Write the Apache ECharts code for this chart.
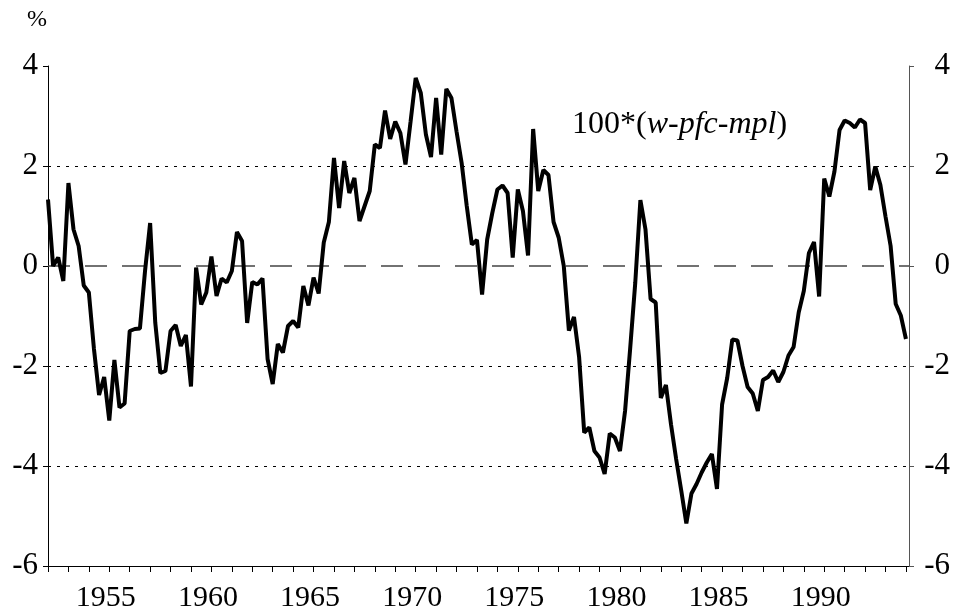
<!DOCTYPE html>
<html>
<head>
<meta charset="utf-8">
<script src="https://cdn.jsdelivr.net/npm/echarts@6/dist/echarts.min.js"></script>
<style>
  html, body { margin: 0; padding: 0; background: #fff; }
  #chart { width: 956px; height: 613px; }
</style>
</head>
<body>
<div id="chart"></div>
<script>
// quarterly series, 1952Q1 .. 1994Q1
const startYear = 1952;
const values = [
    1.33, 0.0, 0.17, -0.30, 1.66, 0.73, 0.40, -0.39, -0.53, -1.66,
    -2.58, -2.22, -3.09, -1.88, -2.83, -2.75, -1.30, -1.26, -1.25, -0.10,
    0.86, -1.13, -2.14, -2.10, -1.30, -1.18, -1.60, -1.38, -2.41, -0.03,
    -0.77, -0.53, 0.19, -0.60, -0.25, -0.33, -0.10, 0.68, 0.50, -1.14,
    -0.32, -0.37, -0.25, -1.86, -2.36, -1.56, -1.73, -1.20, -1.10, -1.23,
    -0.40, -0.79, -0.23, -0.55, 0.47, 0.88, 2.16, 1.16, 2.10, 1.46,
    1.76, 0.90, 1.20, 1.50, 2.43, 2.36, 3.11, 2.54, 2.89, 2.66,
    2.03, 2.89, 3.76, 3.46, 2.63, 2.18, 3.36, 2.23, 3.54, 3.36,
    2.69, 2.06, 1.20, 0.43, 0.52, -0.57, 0.53, 1.06, 1.53, 1.61,
    1.46, 0.17, 1.53, 1.10, 0.21, 2.74, 1.50, 1.92, 1.82, 0.88,
    0.57, 0.0, -1.29, -1.02, -1.82, -3.33, -3.23, -3.70, -3.83, -4.16,
    -3.35, -3.43, -3.70, -2.90, -1.65, -0.33, 1.32, 0.73, -0.66, -0.73,
    -2.64, -2.38, -3.17, -3.86, -4.49, -5.15, -4.55, -4.36, -4.13, -3.93,
    -3.76, -4.46, -2.77, -2.24, -1.47, -1.49, -2.0, -2.42, -2.55, -2.90,
    -2.28, -2.22, -2.09, -2.32, -2.12, -1.79, -1.62, -0.93, -0.50, 0.26,
    0.48, -0.61, 1.75, 1.39, 1.89, 2.72, 2.91, 2.86, 2.77, 2.93,
    2.86, 1.52, 1.99, 1.62, 0.99, 0.40, -0.76, -0.99, -1.46
];
const yearLabels = [1955, 1960, 1965, 1970, 1975, 1980, 1985, 1990];
const dottedLevels = [2, -2, -4];
const dashedLevels = [0];
const unitLabel = '%';
const seriesLabel = ['100*(', 'w-pfc-mpl', ')'];

const serif = 'Liberation Serif';

const points = values.map((v, i) => [startYear + i / 4, v]);

const guideLines = [
    ...dottedLevels.map((y) => ({
        yAxis: y,
        lineStyle: { color: '#000', width: 1, type: [3, 6] }
    })),
    ...dashedLevels.map((y) => ({
        yAxis: y,
        lineStyle: { color: '#444', width: 1.5, type: [22, 15] }
    }))
];

const yAxisBase = {
    type: 'value',
    min: -6,
    max: 4,
    interval: 2,
    splitLine: { show: false },
    axisTick: { show: true, inside: false, length: 5, lineStyle: { color: '#000' } }
};

const chart = echarts.init(document.getElementById('chart'), null, { renderer: 'canvas' });

chart.setOption({
    animation: false,
    backgroundColor: '#fff',
    grid: { left: 48, right: 47, top: 66, bottom: 46, containLabel: false },
    title: {
        text: `{a|${seriesLabel[0]}}{b|${seriesLabel[1]}}{a|${seriesLabel[2]}}`,
        left: 572,
        top: 109,
        padding: 0,
        textStyle: {
            fontWeight: 'normal',
            rich: {
                a: { fontFamily: serif, fontSize: 32, fontWeight: 'normal', color: '#000' },
                b: { fontFamily: serif, fontSize: 32, fontWeight: 'normal', fontStyle: 'italic', color: '#000' }
            }
        }
    },
    graphic: [{
        type: 'text',
        left: 27,
        top: 8,
        style: { text: unitLabel, fontFamily: serif, fontSize: 24, fill: '#000' }
    }],
    xAxis: {
        type: 'value',
        min: startYear,
        max: 1994.15,
        interval: 1,
        splitLine: { show: false },
        axisLine: { onZero: false, lineStyle: { color: '#000', width: 1 } },
        axisTick: { show: true, length: 6, lineStyle: { color: '#000' } },
        axisLabel: {
            fontFamily: serif,
            fontSize: 30,
            color: '#000',
            margin: 17,
            padding: [0, 7, 0, 0],
            showMinLabel: true,
            showMaxLabel: false,
            formatter: (v) => (yearLabels.includes(Math.round(v * 100) / 100) ? String(v) : '')
        }
    },
    yAxis: [
        {
            ...yAxisBase,
            position: 'left',
            axisLine: { show: true, lineStyle: { color: '#000', width: 1 } },
            axisLabel: { fontFamily: serif, fontSize: 31, color: '#000', margin: 10 }
        },
        {
            ...yAxisBase,
            position: 'right',
            axisLine: { show: true, lineStyle: { color: '#555', width: 1 } },
            axisTick: { show: true, length: 5, lineStyle: { color: '#555' } },
            axisLabel: { fontFamily: serif, fontSize: 31, color: '#000', margin: 41, align: 'right' }
        }
    ],
    series: [
        {
            type: 'line',
            data: points,
            showSymbol: false,
            symbol: 'none',
            z: 3,
            lineStyle: { color: '#000', width: 4 },
            markLine: {
                silent: true,
                symbol: 'none',
                z: 1,
                label: { show: false },
                data: guideLines
            }
        }
    ]
});
</script>
</body>
</html>
